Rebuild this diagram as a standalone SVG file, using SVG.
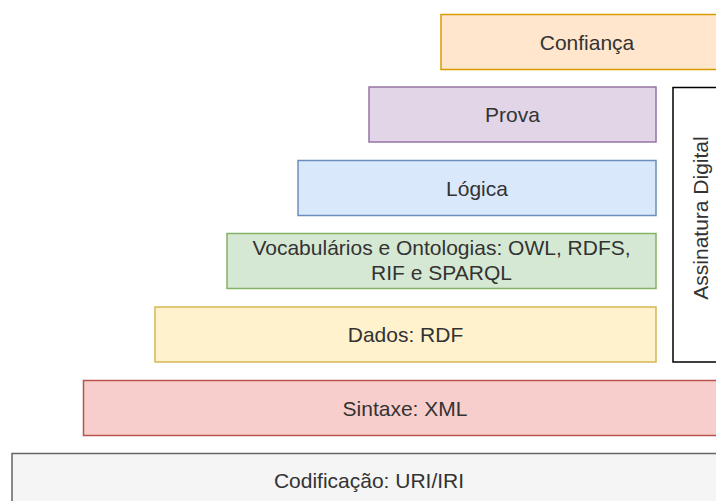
<svg xmlns="http://www.w3.org/2000/svg" width="716" height="501" viewBox="0 0 716 501">
<style>
rect{stroke-width:1.5}
text{font-family:"Liberation Sans",Arial,Helvetica,sans-serif;font-size:21px;fill:#333333;text-anchor:middle}
.orange{fill:#ffe6cc;stroke:#d79b00}
.purple{fill:#e1d5e7;stroke:#9673a6}
.blue{fill:#dae8fc;stroke:#6c8ebf}
.green{fill:#d5e8d4;stroke:#82b366}
.yellow{fill:#fff2cc;stroke:#d6b656}
.red{fill:#f8cecc;stroke:#b85450}
.gray{fill:#f5f5f5;stroke:#666666}
.white{fill:#ffffff;stroke:#000000}
</style>
<rect width="716" height="501" fill="#ffffff" stroke="none"/>
<g id="confianca"><rect class="orange" x="441" y="14.5" width="292" height="55"/><text x="587" y="49.5">Confiança</text></g>
<g id="assinatura"><rect class="white" x="673" y="87.5" width="55" height="274.5"/><text x="700.5" y="225.5" transform="rotate(-90 700.5 218)">Assinatura Digital</text></g>
<g id="prova"><rect class="purple" x="369" y="87" width="287" height="55"/><text x="512.5" y="122">Prova</text></g>
<g id="logica"><rect class="blue" x="298" y="160.5" width="358" height="55"/><text x="477" y="195.5">Lógica</text></g>
<g id="vocabularios"><rect class="green" x="227" y="233.5" width="429" height="55"/><text x="441.5" y="254.5">Vocabulários e Ontologias: OWL, RDFS,</text><text x="441.5" y="280">RIF e SPARQL</text></g>
<g id="dados"><rect class="yellow" x="155" y="307" width="501" height="55"/><text x="405.5" y="342">Dados: RDF</text></g>
<g id="sintaxe"><rect class="red" x="83.5" y="380.5" width="643" height="55"/><text x="405" y="415.5">Sintaxe: XML</text></g>
<g id="codificacao"><rect class="gray" x="12" y="453.5" width="714" height="60"/><text x="369" y="487.5">Codificação: URI/IRI</text></g>
<g id="connectors"></g>
</svg>
